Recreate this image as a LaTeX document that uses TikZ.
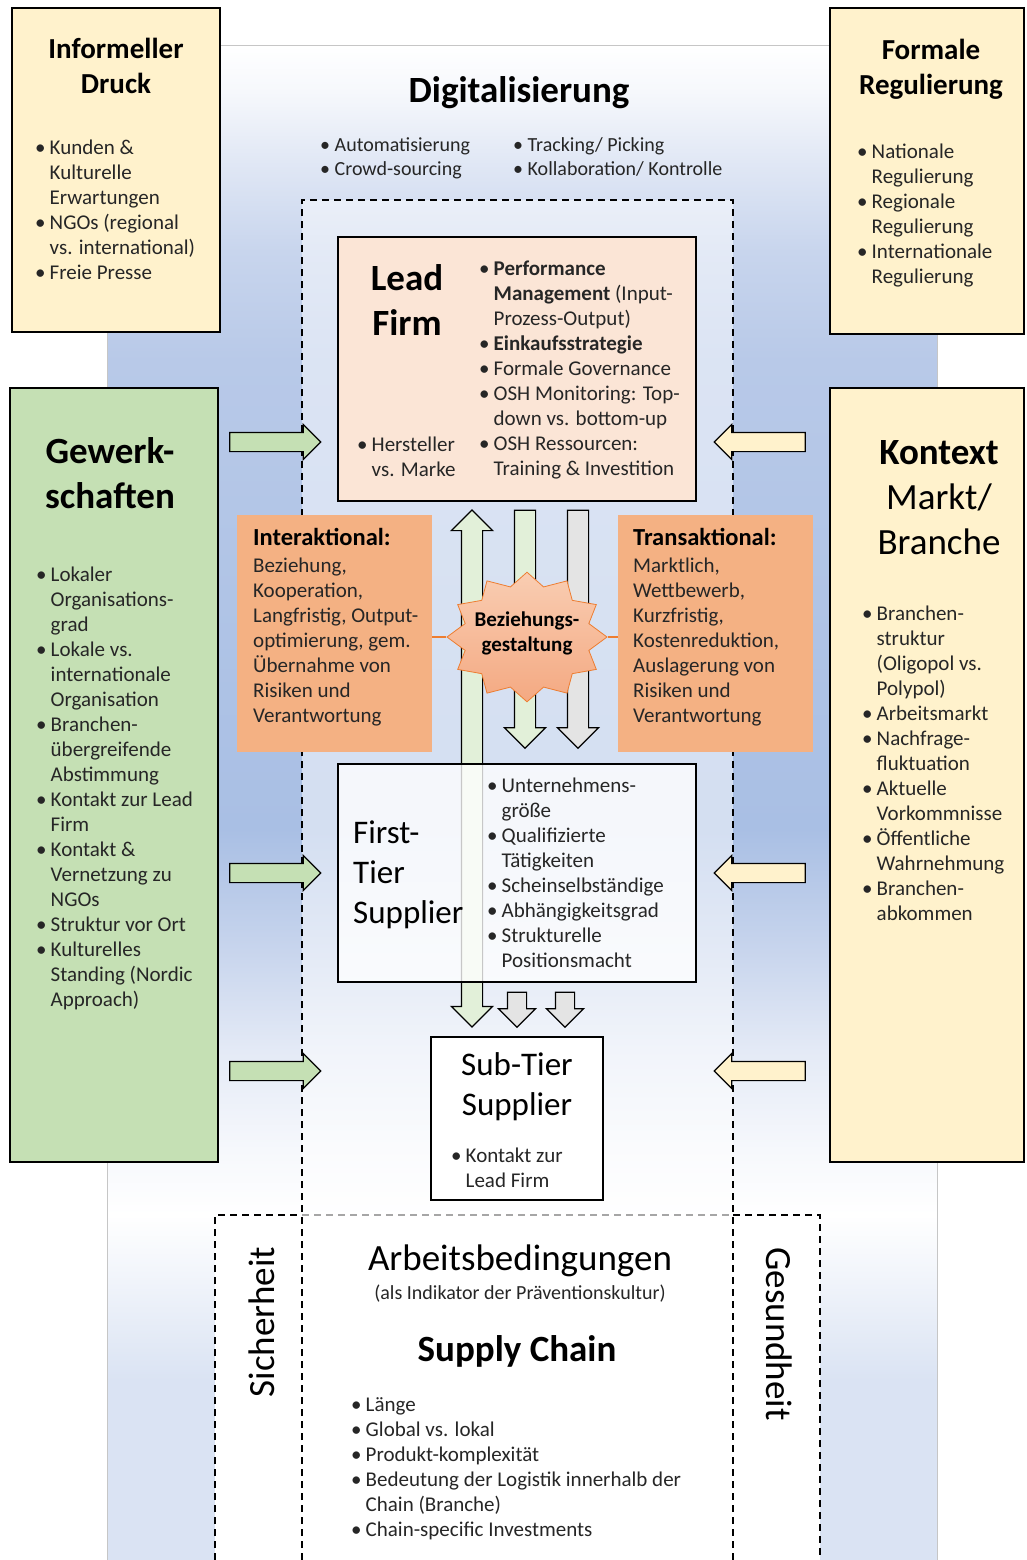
\documentclass[tikz,border=0pt]{standalone}
\usepackage{fontspec}
\setmainfont{Carlito}
\usetikzlibrary{shapes.geometric,shapes.arrows}

\definecolor{boxYellow}{HTML}{FFF2CC}
\definecolor{boxGreen}{HTML}{C5E0B4}
\definecolor{boxPeach}{HTML}{FBE5D6}
\definecolor{boxOrange}{HTML}{F4B183}
\definecolor{lineOrange}{HTML}{ED7D31}
\definecolor{arrGreen}{HTML}{E2F0D9}
\definecolor{arrGray}{HTML}{E4E4E4}
\definecolor{bgA}{HTML}{F6F8FC}
\definecolor{bgB}{HTML}{E4EAF6}
\definecolor{bgC}{HTML}{C8D5ED}
\definecolor{bgD}{HTML}{B8C9E8}
\definecolor{bgE}{HTML}{B0C4E6}
\definecolor{bgF}{HTML}{A9BFE4}
\definecolor{bgLow}{HTML}{DAE3F3}
\definecolor{starTop}{HTML}{F9CDB2}
\definecolor{starBot}{HTML}{F4A982}

\pgfdeclareverticalshading{mainbg}{100bp}{color(0bp)=(white); color(25bp)=(white); color(27.8bp)=(bgA); color(32bp)=(bgB); color(36.3bp)=(bgC); color(41.5bp)=(bgF); color(51.3bp)=(bgE); color(61.5bp)=(bgD); color(66.2bp)=(bgC); color(70.5bp)=(bgB); color(73bp)=(bgA); color(75bp)=(white); color(100bp)=(white)}
\pgfdeclareverticalshading{lowbg}{100bp}{color(0bp)=(bgLow); color(51bp)=(bgLow); color(75bp)=(white); color(100bp)=(white)}

\newcommand\bodyfont{\fontsize{21}{25}\selectfont}
\newcommand\smallbody{\fontsize{20}{24}\selectfont}
\newcommand\headfont{\fontsize{29}{35}\selectfont\bfseries}
\newcommand\bigfont{\fontsize{37}{45}\selectfont}
\newcommand\bu{\makebox[14.5pt][l]{\textbullet}}
\newcommand\ind{\hspace*{14.5pt}}

\begin{document}
\begin{tikzpicture}
        [x=1pt, y=-1pt,
        Side/.style={rectangle, draw=black, line width=1.6pt, inner sep=0pt},
        Box/.style={rectangle, draw=black, line width=1.5pt, inner sep=0pt},
        Orange/.style={rectangle, fill=boxOrange, inner sep=0pt, minimum width=195pt, minimum height=237pt},
        DashLine/.style={line width=1.2pt, dash pattern=on 7pt off 5pt},
        InArrow/.style={single arrow, draw=black, line width=1.2pt, inner sep=9pt, single arrow head extend=8pt, minimum height=91pt},
        UpDown/.style={double arrow, draw=black, line width=1.2pt, inner sep=10pt, fill=arrGreen, shape border rotate=90, double arrow head extend=10pt, minimum height=517pt},
        Down/.style={single arrow, draw=black, line width=1.2pt, inner sep=10pt, shape border rotate=270, single arrow head extend=10pt, minimum height=238pt},
        SmallDown/.style={single arrow, draw=black, line width=1.2pt, inner sep=9pt, shape border rotate=270, fill=arrGray, single arrow head extend=9pt, minimum height=35pt},
        Star/.style={star, star points=12, star point ratio=1.25, minimum size=160pt, inner sep=0pt, draw=lineOrange, line width=0.8pt, top color=starTop, bottom color=starBot, yscale=0.81, transform shape},
        Conn/.style={draw=lineOrange, line width=1.5pt},
        Tag/.style={inner sep=0pt, anchor=base west, align=left, font=\bodyfont, text=black!85},
        Head/.style={inner sep=0pt, anchor=base, align=center, text=black},
        ]
    \useasboundingbox (0,0) rectangle (1026,1560);

    % background
    \shade[shading=mainbg] (107,45) rectangle (937,1215);
    \shade[shading=lowbg] (107,1215) rectangle (937,1560);
    \draw[gray!45, line width=0.8pt] (107,1560) -- (107,45) -- (937,45) -- (937,1560);
    \fill[white, fill opacity=0.5] (302,200) rectangle (733,1215);
    \fill[white] (215,1215) rectangle (820,1560);
    \draw[DashLine] (302,1560) -- (302,200) -- (733,200) -- (733,1560);
    \draw[DashLine] (215,1560) -- (215,1215) -- (302,1215);
    \draw[DashLine, gray!70] (302,1215) -- (733,1215);
    \draw[DashLine] (733,1215) -- (820,1215) -- (820,1560);

    \node[Side, fill=boxYellow, minimum width=208pt, minimum height=324pt] (inf) at (116,170) {};
    \node[Side, fill=boxYellow, minimum width=194pt, minimum height=326pt] (reg) at (927,171) {};
    \node[Side, fill=boxGreen, minimum width=208pt, minimum height=774pt] (gew) at (114,775) {};
    \node[Side, fill=boxYellow, minimum width=194pt, minimum height=774pt] (ctx) at (927,775) {};

    \node[InArrow, fill=boxGreen] (gin1) at (270.5,442) {};
    \node[InArrow, fill=boxGreen] (gin2) at (270.5,873) {};
    \node[InArrow, fill=boxGreen] (gin3) at (270.5,1071) {};
    \node[InArrow, fill=boxYellow, shape border rotate=180] (yin1) at (764.5,442) {};
    \node[InArrow, fill=boxYellow, shape border rotate=180] (yin2) at (764.5,873) {};
    \node[InArrow, fill=boxYellow, shape border rotate=180] (yin3) at (764.5,1071) {};

    \node[Box, fill=boxPeach, minimum width=358pt, minimum height=264pt] (lead) at (517,369) {};

    \node[UpDown] (lf2ft) at (472,768.5) {};
    \node[Down, fill=arrGreen] (down1) at (525,624) {};
    \node[Down, fill=arrGray] (down2) at (578,624) {};
    \node[SmallDown] (sub1) at (517,1005) {};
    \node[SmallDown] (sub2) at (565,1005) {};

    \node[Orange] (inter) at (334.5,633.5) {};
    \node[Orange] (trans) at (715.5,633.5) {};
    \node[Star] (bez) at (527,637) {};
    \draw[Conn] (bez.west) -- (bez.west -| inter.east);
    \draw[Conn] (bez.east) -- (bez.east -| trans.west);

    \node[Box, fill=white, fill opacity=0.78, minimum width=358pt, minimum height=218pt] (ft) at (517,873) {};
    \node[Box, fill=white, minimum width=172pt, minimum height=163pt] (st) at (517,1118.5) {};

    % texts (base = last line)
    \node[Head, font=\headfont] (infT) at (116,94) {Informeller\\Druck};
    \node[Tag] (infL) at (35,279) {\bu Kunden \&\\\ind Kulturelle\\\ind Erwartungen\\\bu NGOs (regional\\\ind vs. international)\\\bu Freie Presse};
    \node[Head, font=\headfont] (regT) at (931,95) {Formale\\Regulierung};
    \node[Tag] (regL) at (857,283) {\bu Nationale\\\ind Regulierung\\\bu Regionale\\\ind Regulierung\\\bu Internationale\\\ind Regulierung};

    \node[Head, font=\bigfont\bfseries] (digT) at (519,103) {Digitalisierung};
    \node[Tag, font=\smallbody] (digL1) at (320,175) {\bu Automatisierung\\\bu Crowd-sourcing};
    \node[Tag, font=\smallbody] (digL2) at (513,175) {\bu Tracking/ Picking\\\bu Kollaboration/ Kontrolle};

    \node[Head, font=\bigfont\bfseries] (leadT) at (407,335) {Lead\\Firm};
    \node[Tag] (leadL) at (479,475) {\bu\textbf{Performance}\\\ind\textbf{Management} (Input-\\\ind Prozess-Output)\\\bu\textbf{Einkaufsstrategie}\\\bu Formale Governance\\\bu OSH Monitoring: Top-\\\ind down vs. bottom-up\\\bu OSH Ressourcen:\\\ind Training \& Investition};
    \node[Tag] (leadL2) at (357,476) {\bu Hersteller\\\ind vs. Marke};

    \node[Tag, font=\fontsize{24.5}{29}\selectfont\bfseries, text=black] (interT) at (253,545) {Interaktional:};
    \node[Tag] (interL) at (253,722) {Beziehung,\\Kooperation,\\Langfristig, Output-\\optimierung, gem.\\Übernahme von\\Risiken und\\Verantwortung};
    \node[Tag, font=\fontsize{24.5}{29}\selectfont\bfseries, text=black] (transT) at (633,545) {Transaktional:};
    \node[Tag] (transL) at (633,722) {Marktlich,\\Wettbewerb,\\Kurzfristig,\\Kostenreduktion,\\Auslagerung von\\Risiken und\\Verantwortung};
    \node[Head, font=\fontsize{21}{25}\selectfont\bfseries] (bezT) at (527,651) {Beziehungs-\\gestaltung};

    \node[Head, font=\bigfont\bfseries] (gewT) at (110,508) {Gewerk-\\schaften};
    \node[Tag] (gewL) at (36,1006) {\bu Lokaler\\\ind Organisations-\\\ind grad\\\bu Lokale vs.\\\ind internationale\\\ind Organisation\\\bu Branchen-\\\ind übergreifende\\\ind Abstimmung\\\bu Kontakt zur Lead\\\ind Firm\\\bu Kontakt \&\\\ind Vernetzung zu\\\ind NGOs\\\bu Struktur vor Ort\\\bu Kulturelles\\\ind Standing (Nordic\\\ind Approach)};

    \node[Head, font=\bigfont] (ctxT) at (939,554) {\textbf{Kontext}\\Markt/\\Branche};
    \node[Tag] (ctxL) at (862,920) {\bu Branchen-\\\ind struktur\\\ind (Oligopol vs.\\\ind Polypol)\\\bu Arbeitsmarkt\\\bu Nachfrage-\\\ind fluktuation\\\bu Aktuelle\\\ind Vorkommnisse\\\bu Öffentliche\\\ind Wahrnehmung\\\bu Branchen-\\\ind abkommen};

    \node[Tag, font=\fontsize{33}{40}\selectfont, text=black] (ftT) at (353,923) {First-\\Tier\\Supplier};
    \node[Tag] (ftL) at (487,967) {\bu Unternehmens-\\\ind größe\\\bu Qualifizierte\\\ind Tätigkeiten\\\bu Scheinselbständige\\\bu Abhängigkeitsgrad\\\bu Strukturelle\\\ind Positionsmacht};

    \node[Head, font=\fontsize{33}{40}\selectfont] (stT) at (517,1115) {Sub-Tier\\Supplier};
    \node[Tag] (stL) at (451,1187) {\bu Kontakt zur\\\ind Lead Firm};

    \node[Head, font=\bigfont] (abT) at (520,1270) {Arbeitsbedingungen};
    \node[Head, font=\smallbody, text=black!85] (abS) at (520,1299) {(als Indikator der Präventionskultur)};
    \node[Head, font=\bigfont\bfseries] (scT) at (517,1361) {Supply Chain};
    \node[Tag] (scL) at (351,1536) {\bu Länge\\\bu Global vs. lokal\\\bu Produkt-komplexität\\\bu Bedeutung der Logistik innerhalb der\\\ind Chain (Branche)\\\bu Chain-specific Investments};
    \node[Head, anchor=center, font=\bigfont, rotate=90] (sich) at (262,1322) {Sicherheit};
    \node[Head, anchor=center, font=\bigfont, rotate=-90] (ges) at (779,1334) {Gesundheit};

    \end{tikzpicture}
\end{document}
